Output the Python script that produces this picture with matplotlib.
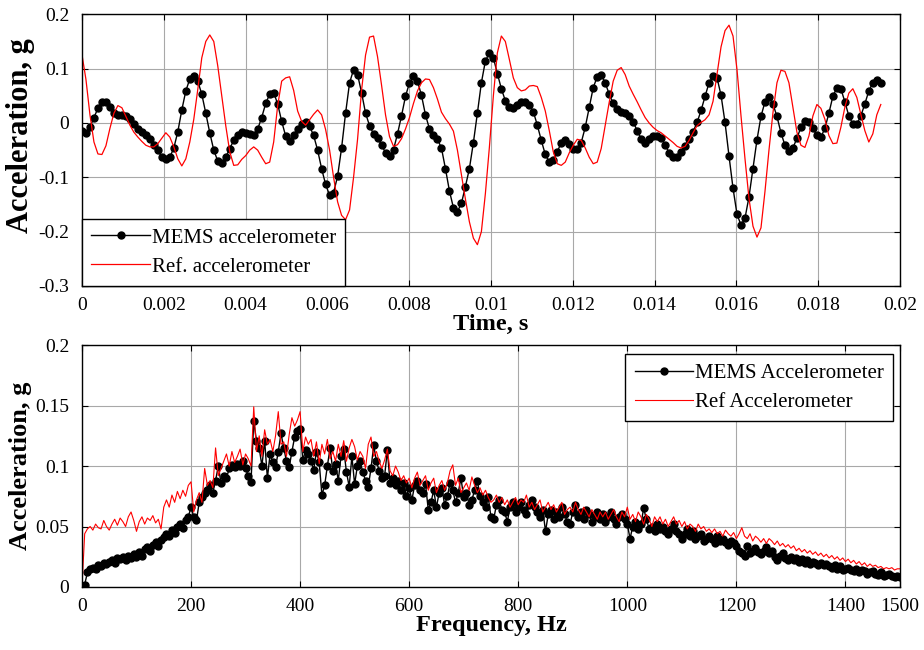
import numpy as np
import matplotlib.pyplot as plt

plt.rcParams['font.family'] = ['Liberation Serif', 'DejaVu Serif']

# ---- time record, sampled at 10240 Hz ----
fs = 10240.0
mems_t = [
    -0.014, -0.018, -0.008, 0.010, 0.027, 0.039, 0.039, 0.030, 0.019, 0.015,
    0.015, 0.012, 0.007, -0.002, -0.011, -0.017, -0.022, -0.030, -0.040, -0.050,
    -0.063, -0.067, -0.063, -0.046, -0.016, 0.024, 0.059, 0.081, 0.086, 0.077,
    0.053, 0.018, -0.018, -0.050, -0.070, -0.073, -0.063, -0.047, -0.032, -0.022,
    -0.017, -0.018, -0.020, -0.022, -0.011, 0.010, 0.036, 0.053, 0.056, 0.035,
    0.003, -0.024, -0.034, -0.023, -0.011, -0.002, 0.001, -0.006, -0.023, -0.050,
    -0.084, -0.113, -0.133, -0.128, -0.098, -0.046, 0.018, 0.074, 0.098, 0.089,
    0.056, 0.018, -0.005, -0.020, -0.028, -0.040, -0.055, -0.061, -0.049, -0.020,
    0.013, 0.049, 0.074, 0.086, 0.077, 0.051, 0.015, -0.011, -0.023, -0.030,
    -0.046, -0.084, -0.125, -0.156, -0.163, -0.148, -0.117, -0.084, -0.036, 0.018,
    0.074, 0.114, 0.129, 0.120, 0.091, 0.063, 0.041, 0.030, 0.027, 0.033,
    0.038, 0.039, 0.033, 0.021, -0.004, -0.032, -0.058, -0.072, -0.069, -0.053,
    -0.036, -0.032, -0.038, -0.047, -0.047, -0.036, -0.008, 0.029, 0.065, 0.085,
    0.089, 0.074, 0.053, 0.036, 0.026, 0.021, 0.018, 0.012, 0.002, -0.014,
    -0.029, -0.036, -0.030, -0.024, -0.024, -0.028, -0.040, -0.055, -0.063, -0.063,
    -0.053, -0.043, -0.029, -0.016, 0.001, 0.023, 0.049, 0.074, 0.086, 0.083,
    0.051, 0.001, -0.061, -0.120, -0.168, -0.188, -0.175, -0.136, -0.084, -0.031,
    0.012, 0.039, 0.047, 0.035, 0.012, -0.018, -0.041, -0.052, -0.046, -0.028,
    -0.008, 0.004, 0.002, -0.010, -0.023, -0.026, -0.010, 0.018, 0.049, 0.065,
    0.063, 0.039, 0.013, -0.002, -0.002, 0.013, 0.035, 0.059, 0.074, 0.080,
    0.074,
]
ref_t = [
    0.126, 0.080, 0.015, -0.035, -0.057, -0.058, -0.042, -0.010, 0.018, 0.032,
    0.028, 0.012, -0.004, -0.017, -0.026, -0.034, -0.041, -0.044, -0.044, -0.038,
    -0.028, -0.018, -0.026, -0.044, -0.066, -0.079, -0.066, -0.035, 0.007, 0.062,
    0.120, 0.150, 0.162, 0.150, 0.105, 0.050, -0.005, -0.053, -0.078, -0.077,
    -0.067, -0.060, -0.050, -0.044, -0.050, -0.063, -0.075, -0.072, -0.035, 0.032,
    0.077, 0.083, 0.085, 0.060, 0.022, 0.003, -0.004, 0.006, 0.016, 0.024,
    0.015, -0.012, -0.050, -0.100, -0.145, -0.170, -0.178, -0.160, -0.100, -0.030,
    0.060, 0.125, 0.158, 0.160, 0.122, 0.070, 0.015, -0.025, -0.043, -0.040,
    -0.029, -0.011, 0.010, 0.036, 0.059, 0.074, 0.081, 0.080, 0.065, 0.044,
    0.020, 0.008, -0.002, -0.015, -0.050, -0.095, -0.140, -0.182, -0.212, -0.224,
    -0.200, -0.130, -0.045, 0.050, 0.129, 0.160, 0.150, 0.117, 0.083, 0.065,
    0.059, 0.061, 0.068, 0.069, 0.067, 0.047, 0.022, -0.014, -0.053, -0.075,
    -0.078, -0.072, -0.055, -0.041, -0.030, -0.032, -0.046, -0.063, -0.075, -0.072,
    -0.047, -0.005, 0.038, 0.077, 0.097, 0.102, 0.089, 0.068, 0.053, 0.039,
    0.024, 0.010, 0.000, -0.008, -0.014, -0.018, -0.024, -0.030, -0.036, -0.043,
    -0.046, -0.043, -0.032, -0.018, -0.005, 0.001, 0.006, 0.015, 0.040, 0.090,
    0.140, 0.170, 0.180, 0.160, 0.098, 0.013, -0.066, -0.139, -0.190, -0.210,
    -0.193, -0.126, -0.050, 0.019, 0.074, 0.097, 0.095, 0.074, 0.029, -0.017,
    -0.041, -0.045, -0.024, 0.013, 0.034, 0.027, 0.007, -0.023, -0.038, -0.037,
    -0.008, 0.029, 0.055, 0.063, 0.047, 0.016, -0.014, -0.035, -0.020, 0.015,
    0.034,
]

# ---- spectra, 5 Hz bins from 0 to 1500 Hz (values in mg) ----
df = 5.0
mems_f = [
    0, 2, 12, 15, 16, 15, 18, 17, 20, 19, 21,
    22, 20, 24, 23, 25, 22, 26, 24, 27, 25,
    29, 26, 31, 33, 30, 35, 37, 34, 39, 41,
    44, 42, 47, 45, 50, 52, 49, 55, 58, 66,
    58, 55, 70, 74, 78, 80, 84, 78, 88, 100,
    86, 92, 90, 98, 101, 99, 102, 100, 104, 98,
    92, 87, 137, 121, 115, 100, 121, 90, 110, 103,
    99, 112, 127, 115, 104, 99, 112, 124, 129, 131,
    105, 113, 110, 104, 97, 112, 103, 76, 84, 100,
    115, 96, 102, 88, 108, 114, 95, 83, 108, 85,
    100, 104, 95, 88, 83, 98, 117, 104, 96, 90,
    92, 113, 86, 90, 84, 88, 80, 86, 75, 82,
    72, 84, 88, 80, 78, 85, 64, 70, 80, 66,
    78, 82, 68, 75, 86, 80, 70, 78, 90, 74,
    78, 68, 72, 80, 88, 75, 70, 66, 74, 58,
    56, 68, 72, 64, 62, 54, 66, 70, 62, 66,
    70, 64, 60, 68, 72, 66, 62, 58, 64, 46,
    60, 64, 56, 62, 58, 66, 60, 54, 52, 62,
    68, 58, 62, 56, 64, 60, 54, 58, 62, 56,
    60, 54, 58, 62, 56, 52, 58, 60, 56, 52,
    40, 50, 54, 48, 52, 65, 56, 48, 50, 46,
    52, 48, 50, 46, 44, 48, 52, 46, 44, 40,
    44, 48, 42, 46, 40, 42, 44, 38, 40, 42,
    40, 36, 42, 38, 40, 37, 35, 38, 36, 34,
    30, 28, 26, 34, 28, 30, 32, 29, 27, 30,
    33, 28, 30, 25, 22, 26, 28, 24, 22, 25,
    22, 24, 21, 23, 20, 22, 19, 21, 20, 18,
    20, 18, 19, 17, 16, 18, 15, 17, 14, 15,
    16, 14, 13, 15, 12, 14, 13, 11, 12, 13,
    11, 10, 12, 9, 10, 11, 9, 8, 9, 8,
]
ref_f = [
    0, 44, 48, 50, 47, 52, 49, 48, 55, 50, 47,
    52, 56, 51, 57, 54, 50, 58, 62, 55, 46,
    54, 58, 52, 57, 55, 59, 53, 56, 48, 66,
    72, 66, 76, 70, 79, 73, 80, 75, 84, 87,
    62, 72, 78, 70, 98, 84, 88, 82, 115, 92,
    98, 104, 110, 100, 112, 103, 108, 114, 101, 110,
    106, 100, 149, 112, 125, 108, 130, 118, 122, 112,
    125, 145, 118, 120, 108, 126, 140, 133, 138, 145,
    112, 124, 118, 122, 108, 120, 102, 118, 110, 122,
    106, 112, 104, 118, 108, 121, 104, 115, 122, 116,
    105, 112, 108, 98, 118, 124, 108, 112, 104, 98,
    105, 114, 96, 92, 100, 95, 88, 92, 86, 90,
    82, 90, 95, 84, 88, 92, 80, 86, 90, 78,
    84, 88, 80, 86, 96, 101, 84, 90, 78, 82,
    86, 80, 91, 84, 78, 82, 76, 80, 74, 70,
    72, 76, 70, 74, 68, 72, 66, 70, 74, 68,
    72, 70, 76, 66, 70, 64, 68, 72, 62, 66,
    70, 64, 68, 62, 66, 70, 60, 64, 66, 62,
    70, 64, 60, 66, 62, 58, 64, 60, 56, 62,
    58, 62, 56, 60, 64, 58, 54, 62, 58, 66,
    56, 60, 54, 62, 58, 52, 60, 56, 50, 58,
    54, 58, 52, 56, 50, 54, 58, 52, 55, 50,
    54, 48, 52, 50, 46, 52, 48, 50, 46, 48,
    45, 48, 44, 46, 42, 47, 44, 42, 45, 40,
    44, 49, 42, 40, 44, 38, 42, 40, 37, 40,
    36, 40, 38, 35, 38, 34, 36, 33, 35, 32,
    34, 30, 32, 29, 31, 28, 30, 27, 29, 26,
    28, 25, 27, 24, 26, 23, 25, 22, 24, 21,
    23, 20, 22, 19, 21, 18, 20, 17, 19, 17,
    18, 16, 17, 15, 16, 15, 16, 14, 15, 15,
]

t = np.arange(len(mems_t)) / fs
f = np.arange(len(mems_f)) * df
mems_f = np.array(mems_f) / 1000.0
ref_f = np.array(ref_f) / 1000.0

fig = plt.figure(figsize=(9.24, 6.5), dpi=100)
ax1 = fig.add_axes([0.0887, 0.560, 0.8853, 0.418])
ax2 = fig.add_axes([0.0887, 0.097, 0.8853, 0.372])

tick_fs = 14
leg_fs = 15
xlab_fs = 17.5


def style(ax):
    ax.grid(True, color='#a8a8a8', linewidth=0.8)
    ax.set_axisbelow(True)
    ax.tick_params(direction='in', top=True, right=True, length=4,
                   labelsize=tick_fs, width=0.8)
    ax.tick_params(axis='x', pad=8)
    ax.tick_params(axis='y', pad=9)
    for s in ax.spines.values():
        s.set_linewidth(1.0)


def legend(ax, **kw):
    leg = ax.legend(fontsize=leg_fs, fancybox=False, edgecolor='black',
                    framealpha=1, handlelength=2.8, handletextpad=0.1,
                    borderpad=0.45, labelspacing=0.45, borderaxespad=0, **kw)
    leg.get_frame().set_linewidth(1.0)
    return leg


# 时域
ax1.plot(t, mems_t, '-o', color='black', linewidth=1.0, markersize=5,
         label='MEMS accelerometer')
ax1.plot(t, ref_t, '-', color='red', linewidth=0.9, label='Ref. accelerometer')
ax1.set_xlim(0, 0.02)
ax1.set_ylim(-0.3, 0.2)
ax1.set_xticks(np.arange(0, 0.0201, 0.002))
ax1.set_xticklabels(['0', '0.002', '0.004', '0.006', '0.008', '0.01',
                     '0.012', '0.014', '0.016', '0.018', '0.02'])
ax1.set_yticks([-0.3, -0.2, -0.1, 0, 0.1, 0.2])
ax1.set_yticklabels(['-0.3', '-0.2', '-0.1', '0', '0.1', '0.2'])
style(ax1)
ax1.set_xlabel('Time, s', fontsize=xlab_fs, fontweight='bold', labelpad=0)
ax1.set_ylabel('Acceleration, g', fontsize=22, fontweight='bold')
ax1.yaxis.set_label_coords(-0.057, 0.555)
legend(ax1, loc='lower left')

# 频域
ax2.plot(f, mems_f, '-o', color='black', linewidth=1.0, markersize=5,
         label='MEMS Accelerometer')
ax2.plot(f, ref_f, '-', color='red', linewidth=0.8, label='Ref Accelerometer')
ax2.set_xlim(0, 1500)
ax2.set_ylim(0, 0.2)
ax2.set_xticks([0, 200, 400, 600, 800, 1000, 1200, 1400, 1500])
ax2.set_xticklabels(['0', '200', '400', '600', '800', '1000', '1200', '1400', '1500'])
ax2.set_yticks([0, 0.05, 0.1, 0.15, 0.2])
ax2.set_yticklabels(['0', '0.05', '0.1', '0.15', '0.2'])
style(ax2)
ax2.set_xlabel('Frequency, Hz', fontsize=xlab_fs, fontweight='bold', labelpad=0)
ax2.set_ylabel('Acceleration, g', fontsize=19, fontweight='bold')
ax2.yaxis.set_label_coords(-0.061, 0.5)
legend(ax2, loc='upper right', bbox_to_anchor=(0.992, 0.963))

fig.savefig('out.png', dpi=100)
